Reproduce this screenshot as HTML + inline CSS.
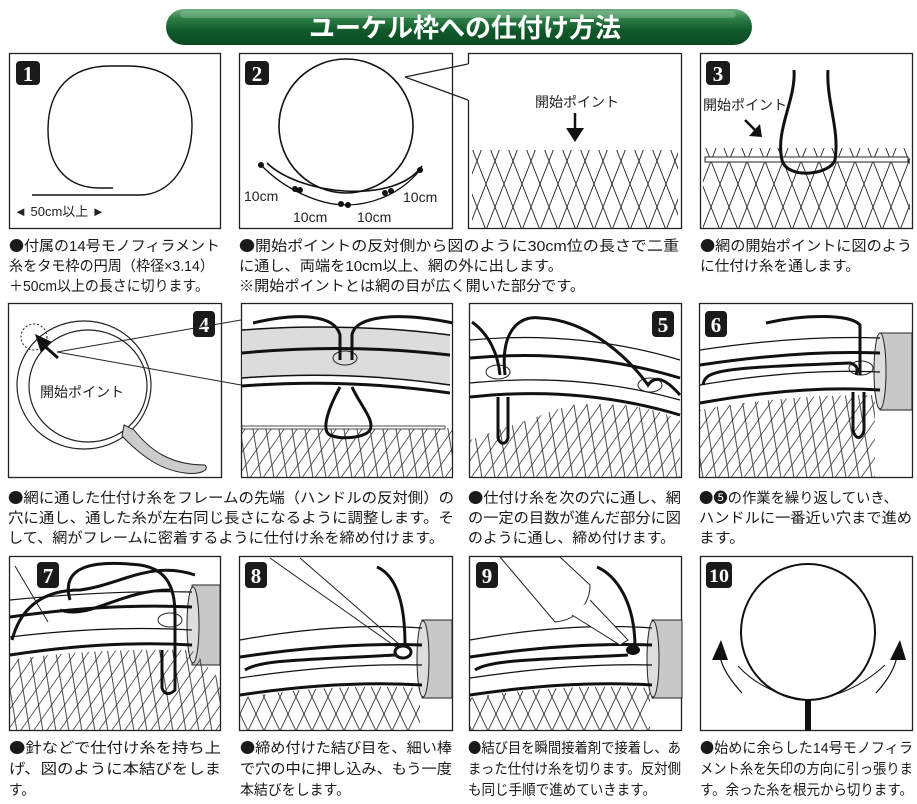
<!DOCTYPE html>
<html><head><meta charset="utf-8"><style>
html,body{margin:0;padding:0;background:#fff;width:917px;height:804px;overflow:hidden}
svg{display:block}
.cap{font-family:"Liberation Sans","Noto Sans CJK JP",sans-serif;font-size:14.5px;fill:#1a1a1a}
.b{font-family:"Noto Sans CJK JP",sans-serif}
</style></head><body>
<svg width="917" height="804" viewBox="0 0 917 804" xmlns="http://www.w3.org/2000/svg">
<defs>
<linearGradient id="g" x1="0" y1="0" x2="0" y2="1">
<stop offset="0" stop-color="#6fae7f"/><stop offset="0.25" stop-color="#2f8048"/><stop offset="0.6" stop-color="#10592b"/><stop offset="1" stop-color="#0b4a22"/></linearGradient>
<pattern id="net" width="18" height="46" patternUnits="userSpaceOnUse">
<path d="M0 0 L18 46 M18 0 L0 46" stroke="#222" stroke-width="0.9" fill="none"/></pattern>
<pattern id="net2" width="13" height="30" patternUnits="userSpaceOnUse" patternTransform="skewX(-15)">
<path d="M0 0 L13 30 M13 0 L0 30" stroke="#222" stroke-width="0.8" fill="none"/></pattern>
<pattern id="net3" width="16" height="34" patternUnits="userSpaceOnUse">
<path d="M0 0 L16 34 M16 0 L0 34" stroke="#222" stroke-width="0.8" fill="none"/></pattern>
</defs>

<!-- title -->
<rect x="166" y="9" width="586" height="36" rx="18" fill="url(#g)"/>
<rect x="180" y="11" width="556" height="7" rx="4" fill="#9fd0aa" opacity="0.35"/>
<text x="465" y="37" text-anchor="middle" font-family="'Liberation Sans','Noto Sans CJK JP',sans-serif" font-weight="bold" font-size="26" fill="#fff" textLength="312" lengthAdjust="spacingAndGlyphs">ユーケル枠への仕付け方法</text>

<g fill="none" stroke="#222" stroke-width="1.3">
<rect x="9.5" y="53.5" width="211" height="175"/>
<rect x="239.5" y="53.5" width="213" height="175"/>
<path d="M468.5 100 V228.5 H681.5 V53.5 H468.5 V64"/>
<rect x="700.5" y="53.5" width="212" height="175"/>
<rect x="8.5" y="303.5" width="213" height="174"/>
<rect x="241.5" y="303.5" width="211" height="174"/>
<rect x="469.5" y="303.5" width="212" height="174"/>
<rect x="699.5" y="303.5" width="213" height="174"/>
<rect x="9.5" y="556.5" width="211" height="174"/>
<rect x="239.5" y="556.5" width="213" height="174"/>
<rect x="469.5" y="556.5" width="212" height="174"/>
<rect x="700.5" y="556.5" width="212" height="174"/>
</g>

<!-- badges -->
<g font-family="'Liberation Serif',serif" font-weight="bold" font-size="21" fill="#fff" text-anchor="middle">
<rect x="16" y="61" width="24" height="24" rx="4" fill="#1a1a1a"/><text x="28" y="81">1</text>
<rect x="245" y="61" width="24" height="24" rx="4" fill="#1a1a1a"/><text x="257" y="81">2</text>
<rect x="706" y="61" width="24" height="24" rx="4" fill="#1a1a1a"/><text x="718" y="81">3</text>
<rect x="193" y="311" width="22" height="26" rx="4" fill="#1a1a1a"/><text x="204" y="332">4</text>
<rect x="652" y="311" width="22" height="26" rx="4" fill="#1a1a1a"/><text x="663" y="332">5</text>
<rect x="705" y="311" width="22" height="26" rx="4" fill="#1a1a1a"/><text x="716" y="332">6</text>
<rect x="37" y="562" width="22" height="26" rx="4" fill="#1a1a1a"/><text x="48" y="583">7</text>
<rect x="245" y="562" width="22" height="26" rx="4" fill="#1a1a1a"/><text x="256" y="583">8</text>
<rect x="476" y="562" width="22" height="26" rx="4" fill="#1a1a1a"/><text x="487" y="583">9</text>
<rect x="706" y="562" width="26" height="26" rx="4" fill="#1a1a1a"/><text x="719" y="582" font-size="19" textLength="20" lengthAdjust="spacingAndGlyphs">10</text>
</g>

<g font-family="'Liberation Sans','Noto Sans CJK JP',sans-serif" fill="#222">
<!-- panel 1 -->
<path d="M113 188 H100 C70 188 48 170 48 130 C48 90 70 66 110 66 H128 C170 66 192 90 192 125 C192 165 170 195 140 195 H32" fill="none" stroke="#111" stroke-width="1.4"/>
<text x="14" y="216" font-size="13">◄ 50cm以上 ►</text>

<!-- panel 2 -->
<circle cx="346" cy="126" r="67" fill="none" stroke="#111" stroke-width="1.6"/>
<path d="M267 163 C300 195 395 205 422 166" fill="none" stroke="#111" stroke-width="1.6"/>
<path d="M261 165 C285 190 320 205 346 205 C370 205 400 195 420 170" fill="none" stroke="#111" stroke-width="1.3"/>
<g fill="#111"><circle cx="261" cy="165" r="3"/><circle cx="295" cy="189" r="3"/><circle cx="300" cy="190" r="3"/><circle cx="341" cy="204" r="3"/><circle cx="348" cy="205" r="3"/><circle cx="385" cy="193" r="3"/><circle cx="391" cy="191" r="3"/><circle cx="420" cy="170" r="3"/></g>
<text x="244" y="201" font-size="14">10cm</text>
<text x="403" y="202" font-size="14">10cm</text>
<text x="293" y="222" font-size="14">10cm</text>
<text x="357" y="222" font-size="14">10cm</text>
<path d="M405 77 L468 64 M405 77 L468 100" stroke="#222" stroke-width="1.2" fill="none"/>
<text x="535" y="107" font-size="14">開始ポイント</text>
<path d="M575 113 V130" stroke="#111" stroke-width="2.5"/><path d="M566 128 H584 L575 142 Z" fill="#111"/>
<rect x="472" y="150" width="206" height="78" fill="url(#net)"/>

<!-- panel 3 -->
<rect x="703" y="148" width="207" height="80" fill="url(#net)"/>
<rect x="705" y="157" width="203" height="5" fill="#fff" stroke="#222" stroke-width="1"/>
<text x="703" y="110" font-size="14">開始ポイント</text>
<path d="M745 120 L757 132" stroke="#111" stroke-width="2.5"/><path d="M749 136 L762 137 L760 124 Z" fill="#111"/>
<path d="M794 70 C796 100 775 130 782 160 C787 180 830 175 835 160 C840 130 826 100 828 70" fill="none" stroke="#111" stroke-width="3"/>

<!-- panel 4 -->
<ellipse cx="84" cy="385" rx="67" ry="64" fill="none" stroke="#222" stroke-width="1.2"/>
<ellipse cx="88" cy="386" rx="59" ry="56" fill="none" stroke="#222" stroke-width="1.2"/>
<path d="M124 425 L134 430 C150 450 170 465 205 465 C210 470 200 475 185 473 C160 470 140 455 122 436 Z" fill="#ccc" stroke="#222" stroke-width="1"/>
<circle cx="34" cy="337" r="13" fill="none" stroke="#222" stroke-width="1" stroke-dasharray="2 2"/>
<path d="M57 352 L241 320 M57 352 L241 385" stroke="#222" stroke-width="1"/>
<path d="M58 358 L40 342" stroke="#111" stroke-width="3"/><path d="M35 334 L52 342 L41 353 Z" fill="#111"/>
<text x="40" y="397" font-size="14">開始ポイント</text>

<!-- panel 4b -->
<path d="M242 330 Q346 322 450 335 L450 385 Q346 370 242 378 Z" fill="#dcdcdc"/>
<path d="M242 330 Q346 322 450 335 M242 353 Q346 343 450 355 M242 378 Q346 370 450 385 M242 386 Q346 378 450 393" fill="none" stroke="#111" stroke-width="1.5"/>
<path d="M242 353 Q346 343 450 355 M242 386 Q346 378 450 393" fill="none" stroke="#111" stroke-width="3"/>
<rect x="242" y="428" width="210" height="49" fill="url(#net2)"/>
<rect x="242" y="426" width="203" height="3" fill="#fff" stroke="#222" stroke-width="0.8"/>
<ellipse cx="345" cy="358" rx="12" ry="7" fill="none" stroke="#222"/>
<path d="M253 323 C300 312 335 315 340 335 V360 M453 323 C400 312 355 315 352 335 V360 M340 387 C330 405 320 430 330 435 C340 440 365 438 370 430 C375 420 360 405 352 387" fill="none" stroke="#111" stroke-width="3"/>

<!-- panel 5 -->
<path d="M470 340 Q580 330 680 360 M470 358 Q580 348 680 378 M470 383 Q580 372 680 400 M470 397 Q580 385 680 415" fill="none" stroke="#111" stroke-width="1.2"/>
<path d="M470 358 Q580 348 680 378 M470 397 Q580 385 680 415" fill="none" stroke="#111" stroke-width="3"/>
<path d="M470 440 L570 405 Q640 400 680 420 V477 H470 Z" fill="url(#net2)"/>
<ellipse cx="498" cy="372" rx="12" ry="7" fill="none" stroke="#222"/>
<ellipse cx="650" cy="385" rx="12" ry="7" fill="none" stroke="#222"/>
<path d="M472 322 C490 335 498 355 500 375 M505 375 C500 330 520 315 540 318 C590 320 630 360 648 385 C655 375 665 378 680 395 M498 397 V438 C500 445 506 445 508 438 V397" fill="none" stroke="#111" stroke-width="3"/>

<!-- panel 6 -->
<path d="M880 333 H912 V410 H880 Z" fill="#c8c8c8" stroke="#222"/>
<ellipse cx="880" cy="371" rx="6" ry="38" fill="#ddd" stroke="#222"/>
<path d="M700 350 Q800 335 880 338 M700 365 Q800 350 880 353 M700 385 Q800 368 880 372 M700 403 Q800 385 880 390" fill="none" stroke="#111" stroke-width="1.2"/>
<path d="M700 365 Q800 350 880 353 M700 403 Q800 385 880 390" fill="none" stroke="#111" stroke-width="3"/>
<path d="M700 410 Q780 395 875 395 V477 H700 Z" fill="url(#net2)"/>
<ellipse cx="861" cy="368" rx="12" ry="7" fill="none" stroke="#222"/>
<path d="M766 323 C800 315 850 313 860 325 V375 M703 385 C705 370 720 368 850 363 C858 365 858 370 856 375 M853 392 V430 C855 440 862 440 864 430 V392" fill="none" stroke="#111" stroke-width="3"/>

<!-- panel 7 -->
<path d="M192 585 H220 V665 H192 Z" fill="#c8c8c8" stroke="#222"/>
<ellipse cx="193" cy="625" rx="6" ry="38" fill="#ddd" stroke="#222"/>
<path d="M10 600 Q110 590 192 592 M10 617 Q110 603 192 607 M10 637 Q110 625 192 630 M10 655 Q110 640 192 645" fill="none" stroke="#111" stroke-width="1.2"/>
<path d="M10 617 Q110 603 192 607 M10 655 Q110 640 192 645" fill="none" stroke="#111" stroke-width="3"/>
<path d="M10 660 Q90 648 192 650 L220 680 V730 H10 Z" fill="url(#net2)"/>
<ellipse cx="170" cy="620" rx="12" ry="7" fill="none" stroke="#222"/>
<path d="M15 566 L48 622" stroke="#222" stroke-width="1" fill="none"/>
<path d="M12 640 C20 610 40 590 80 590 C120 585 150 560 195 575 M70 600 C60 565 95 560 140 565 C175 570 175 600 175 620 V690 C170 695 164 695 162 688 V650 M60 610 C90 620 120 590 170 590" fill="none" stroke="#111" stroke-width="3"/>

<!-- panel 8 -->
<path d="M422 620 H452 V698 H422 Z" fill="#c8c8c8" stroke="#222"/>
<ellipse cx="423" cy="659" rx="6" ry="38" fill="#ddd" stroke="#222"/>
<path d="M240 640 Q340 622 422 628 M240 657 Q340 642 422 645 M240 678 Q340 663 422 665 M240 695 Q340 680 422 685" fill="none" stroke="#111" stroke-width="1.2"/>
<path d="M240 657 Q340 642 422 645 M240 695 Q340 680 422 685" fill="none" stroke="#111" stroke-width="3"/>
<path d="M240 698 Q330 683 420 688 V730 H240 Z" fill="url(#net3)"/>
<path d="M270 558 L396 647 M300 558 L400 645" stroke="#222" stroke-width="1" fill="none"/>
<ellipse cx="403" cy="652" rx="8" ry="6" fill="none" stroke="#111" stroke-width="3"/>
<path d="M377 567 C395 575 405 600 405 645 M245 670 C260 660 300 660 396 655" fill="none" stroke="#111" stroke-width="3"/>

<!-- panel 9 -->
<path d="M652 620 H682 V698 H652 Z" fill="#c8c8c8" stroke="#222"/>
<ellipse cx="653" cy="659" rx="6" ry="38" fill="#ddd" stroke="#222"/>
<path d="M470 640 Q570 622 652 628 M470 657 Q570 642 652 645 M470 678 Q570 663 652 665 M470 695 Q570 680 652 685" fill="none" stroke="#111" stroke-width="1.2"/>
<path d="M470 657 Q570 642 652 645 M470 695 Q570 680 652 685" fill="none" stroke="#111" stroke-width="3"/>
<path d="M470 698 Q560 683 650 688 V730 H470 Z" fill="url(#net3)"/>
<path d="M500 557 L555 622 C580 620 590 600 590 585 L560 557 Z" fill="#fff" stroke="#222"/>
<path d="M572 615 L620 645 L628 640 L590 600" fill="#fff" stroke="#222"/>
<ellipse cx="633" cy="650" rx="7" ry="5" fill="#111"/>
<path d="M597 567 C615 575 635 600 635 648 M475 670 C490 660 530 660 628 655" fill="none" stroke="#111" stroke-width="3"/>

<!-- panel 10 -->
<ellipse cx="808" cy="632" rx="67" ry="68" fill="none" stroke="#111" stroke-width="2"/>
<path d="M738 666 C760 690 790 698 808 700 C830 698 858 690 885 665" fill="none" stroke="#111" stroke-width="1"/>
<rect x="805" y="700" width="6" height="31" fill="#111"/>
<path d="M742 693 C730 680 722 668 720 656 M876 693 C888 680 895 668 897 656" fill="none" stroke="#111" stroke-width="1.2"/>
<path d="M712 660 L721 640 L728 660 Z M890 660 L900 640 L906 660 Z" fill="#111"/>
</g>

<!-- captions -->
<g class="cap">
<text x="9" y="251" textLength="211" lengthAdjust="spacingAndGlyphs"><tspan class="b">●</tspan>付属の14号モノフィラメント</text>
<text x="9" y="271" textLength="205" lengthAdjust="spacingAndGlyphs">糸をタモ枠の円周（枠径×3.14）</text>
<text x="9" y="291" textLength="200" lengthAdjust="spacingAndGlyphs">＋50cm以上の長さに切ります。</text>
<text x="239" y="251" textLength="440" lengthAdjust="spacingAndGlyphs"><tspan class="b">●</tspan>開始ポイントの反対側から図のように30cm位の長さで二重</text>
<text x="239" y="271" textLength="324" lengthAdjust="spacingAndGlyphs">に通し、両端を10cm以上、網の外に出します。</text>
<text x="239" y="291" textLength="346" lengthAdjust="spacingAndGlyphs">※開始ポイントとは網の目が広く開いた部分です。</text>
<text x="700" y="251" textLength="212" lengthAdjust="spacingAndGlyphs"><tspan class="b">●</tspan>網の開始ポイントに図のよう</text>
<text x="700" y="271" textLength="160" lengthAdjust="spacingAndGlyphs">に仕付け糸を通します。</text>

<text x="8" y="503" textLength="446" lengthAdjust="spacingAndGlyphs"><tspan class="b">●</tspan>網に通した仕付け糸をフレームの先端（ハンドルの反対側）の</text>
<text x="8" y="523" textLength="446" lengthAdjust="spacingAndGlyphs">穴に通し、通した糸が左右同じ長さになるように調整します。そ</text>
<text x="8" y="543" textLength="436" lengthAdjust="spacingAndGlyphs">して、網がフレームに密着するように仕付け糸を締め付けます。</text>
<text x="468" y="503" textLength="213" lengthAdjust="spacingAndGlyphs"><tspan class="b">●</tspan>仕付け糸を次の穴に通し、網</text>
<text x="468" y="523" textLength="213" lengthAdjust="spacingAndGlyphs">の一定の目数が進んだ部分に図</text>
<text x="468" y="543" textLength="207" lengthAdjust="spacingAndGlyphs">のように通し、締め付けます。</text>
<text x="699" y="503" textLength="199" lengthAdjust="spacingAndGlyphs"><tspan class="b">●❺</tspan>の作業を繰り返していき、</text>
<text x="699" y="523" textLength="213" lengthAdjust="spacingAndGlyphs">ハンドルに一番近い穴まで進め</text>
<text x="699" y="543" textLength="46" lengthAdjust="spacingAndGlyphs">ます。</text>

<text x="9" y="753" textLength="212" lengthAdjust="spacingAndGlyphs"><tspan class="b">●</tspan>針などで仕付け糸を持ち上</text>
<text x="9" y="774" textLength="212" lengthAdjust="spacingAndGlyphs">げ、図のように本結びをしま</text>
<text x="9" y="795" textLength="26" lengthAdjust="spacingAndGlyphs">す。</text>
<text x="240" y="753" textLength="212" lengthAdjust="spacingAndGlyphs"><tspan class="b">●</tspan>締め付けた結び目を、細い棒</text>
<text x="240" y="774" textLength="212" lengthAdjust="spacingAndGlyphs">で穴の中に押し込み、もう一度</text>
<text x="240" y="795" textLength="110" lengthAdjust="spacingAndGlyphs">本結びをします。</text>
<text x="468" y="753" textLength="213" lengthAdjust="spacingAndGlyphs"><tspan class="b">●</tspan>結び目を瞬間接着剤で接着し、あ</text>
<text x="468" y="774" textLength="213" lengthAdjust="spacingAndGlyphs">まった仕付け糸を切ります。反対側</text>
<text x="468" y="795" textLength="188" lengthAdjust="spacingAndGlyphs">も同じ手順で進めていきます。</text>
<text x="700" y="753" textLength="213" lengthAdjust="spacingAndGlyphs"><tspan class="b">●</tspan>始めに余らした14号モノフィラ</text>
<text x="700" y="774" textLength="213" lengthAdjust="spacingAndGlyphs">メント糸を矢印の方向に引っ張りま</text>
<text x="700" y="795" textLength="213" lengthAdjust="spacingAndGlyphs">す。余った糸を根元から切ります。</text>
</g>
</svg>
</body></html>
